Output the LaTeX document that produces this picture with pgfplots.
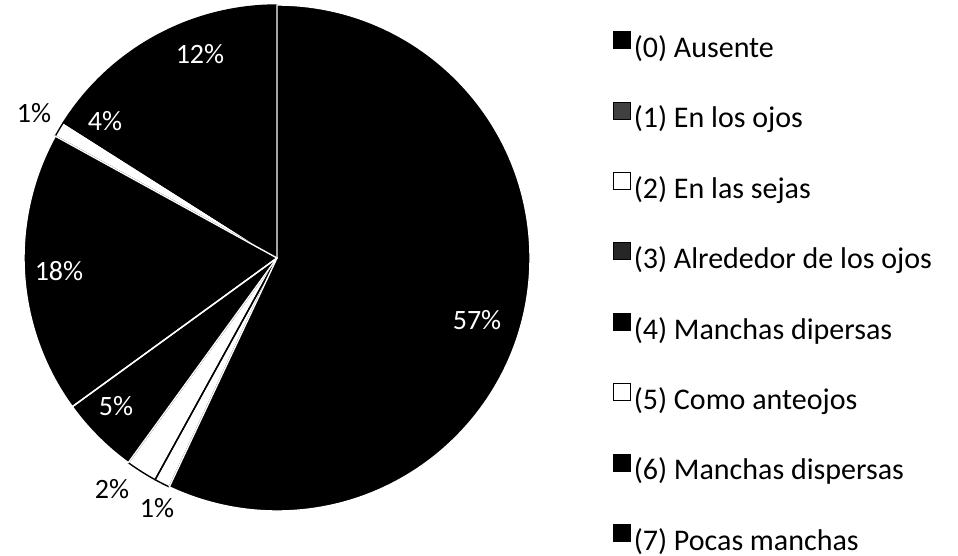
\documentclass[border=0pt]{standalone}
\usepackage{pgfplots}
\pgfplotsset{compat=1.18}
\usepackage{pgfplotstable}
\usepackage{fontspec}
\setmainfont{Carlito}

% value, slice fill, slice edge, label position (px), label colour
\pgfplotstableread{
value fillc edgec labx laby labc
57 black white 477 320 white
1  white black 157 508 black
2  white black 112 489 black
5  black white 116 406 white
18 black white 59 271 white
1  white black 34 113 black
4  black black 105 121 white
12 black black 200 54 white
}\piedata

\newcommand\labfont{\fontsize{28}{32}\selectfont}
\pgfplotsset{sq/.style={legend image code/.code={\draw[fill=#1,draw=black,line width=0.6pt] (0pt,-1pt) rectangle (17pt,16pt);}}}

\begin{document}
\begin{tikzpicture}
\begin{axis}[
  x=1pt, y=1pt, xmin=0, xmax=958, ymin=0, ymax=556, y dir=reverse,
  hide axis, clip=false,
  legend cell align=left,
  legend style={at={(axis cs:613,31)}, anchor=north west, draw=none, fill=none,
    inner sep=0pt, row sep=44.1pt, column sep=3pt,
    font=\fontsize{30}{35}\selectfont,
    nodes={inner sep=0pt, text height=20pt, text depth=0pt}},
]
\coordinate (BL) at (axis cs:0,556);
\coordinate (TR) at (axis cs:958,0);
\pgfplotstablegetrowsof{\piedata}
\pgfmathtruncatemacro{\N}{\pgfplotsretval-1}
% fills
\def\cum{0}
\pgfplotsforeachungrouped \i in {0,...,\N}{%
  \pgfplotstablegetelem{\i}{value}\of{\piedata}\let\v\pgfplotsretval
  \pgfplotstablegetelem{\i}{fillc}\of{\piedata}\let\fc\pgfplotsretval
  \pgfmathsetmacro{\a}{90-3.6*\cum}%
  \pgfmathsetmacro{\b}{\a-3.6*\v}%
  \pgfmathsetmacro{\cum}{\cum+\v}%
  \edef\temp{\noexpand\fill[\fc] (axis cs:277,258) -- ++(\a:253pt) arc[start angle=\a, end angle=\b, radius=253pt] -- cycle;}%
  \temp
}
% edges: black ones first, then white ones on top
\foreach \pass in {black,white}{%
\def\cum{0}%
\pgfplotsforeachungrouped \i in {0,...,\N}{%
  \pgfplotstablegetelem{\i}{value}\of{\piedata}\let\v\pgfplotsretval
  \pgfplotstablegetelem{\i}{edgec}\of{\piedata}\let\ec\pgfplotsretval
  \pgfmathsetmacro{\a}{90-3.6*\cum}%
  \pgfmathsetmacro{\b}{\a-3.6*\v}%
  \pgfmathsetmacro{\cum}{\cum+\v}%
  \ifx\ec\pass
  \edef\temp{\noexpand\draw[draw=\ec, line width=1.4pt, line join=round] (axis cs:277,258) -- ++(\a:253pt) arc[start angle=\a, end angle=\b, radius=253pt] -- cycle;}%
  \temp
  \fi
}}
% labels
\pgfplotsforeachungrouped \i in {0,...,\N}{%
  \pgfplotstablegetelem{\i}{value}\of{\piedata}\let\v\pgfplotsretval
  \pgfplotstablegetelem{\i}{labx}\of{\piedata}\let\lx\pgfplotsretval
  \pgfplotstablegetelem{\i}{laby}\of{\piedata}\let\ly\pgfplotsretval
  \pgfplotstablegetelem{\i}{labc}\of{\piedata}\let\lc\pgfplotsretval
  \edef\temp{\noexpand\node[text=\lc, font=\noexpand\labfont, inner sep=0pt] at (axis cs:\lx,\ly) {\v\noexpand\%};}%
  \temp
}
\addlegendimage{sq=black}\addlegendentry{(0) Ausente}
\addlegendimage{sq=black!75}\addlegendentry{(1) En los ojos}
\addlegendimage{sq=white}\addlegendentry{(2) En las sejas}
\addlegendimage{sq=black!85}\addlegendentry{(3) Alrededor de los ojos}
\addlegendimage{sq=black}\addlegendentry{(4) Manchas dipersas}
\addlegendimage{sq=white}\addlegendentry{(5) Como anteojos}
\addlegendimage{sq=black}\addlegendentry{(6) Manchas dispersas}
\addlegendimage{sq=black}\addlegendentry{(7) Pocas manchas}
\end{axis}
\pgfresetboundingbox
\path (BL) rectangle (TR);
\end{tikzpicture}
\end{document}
